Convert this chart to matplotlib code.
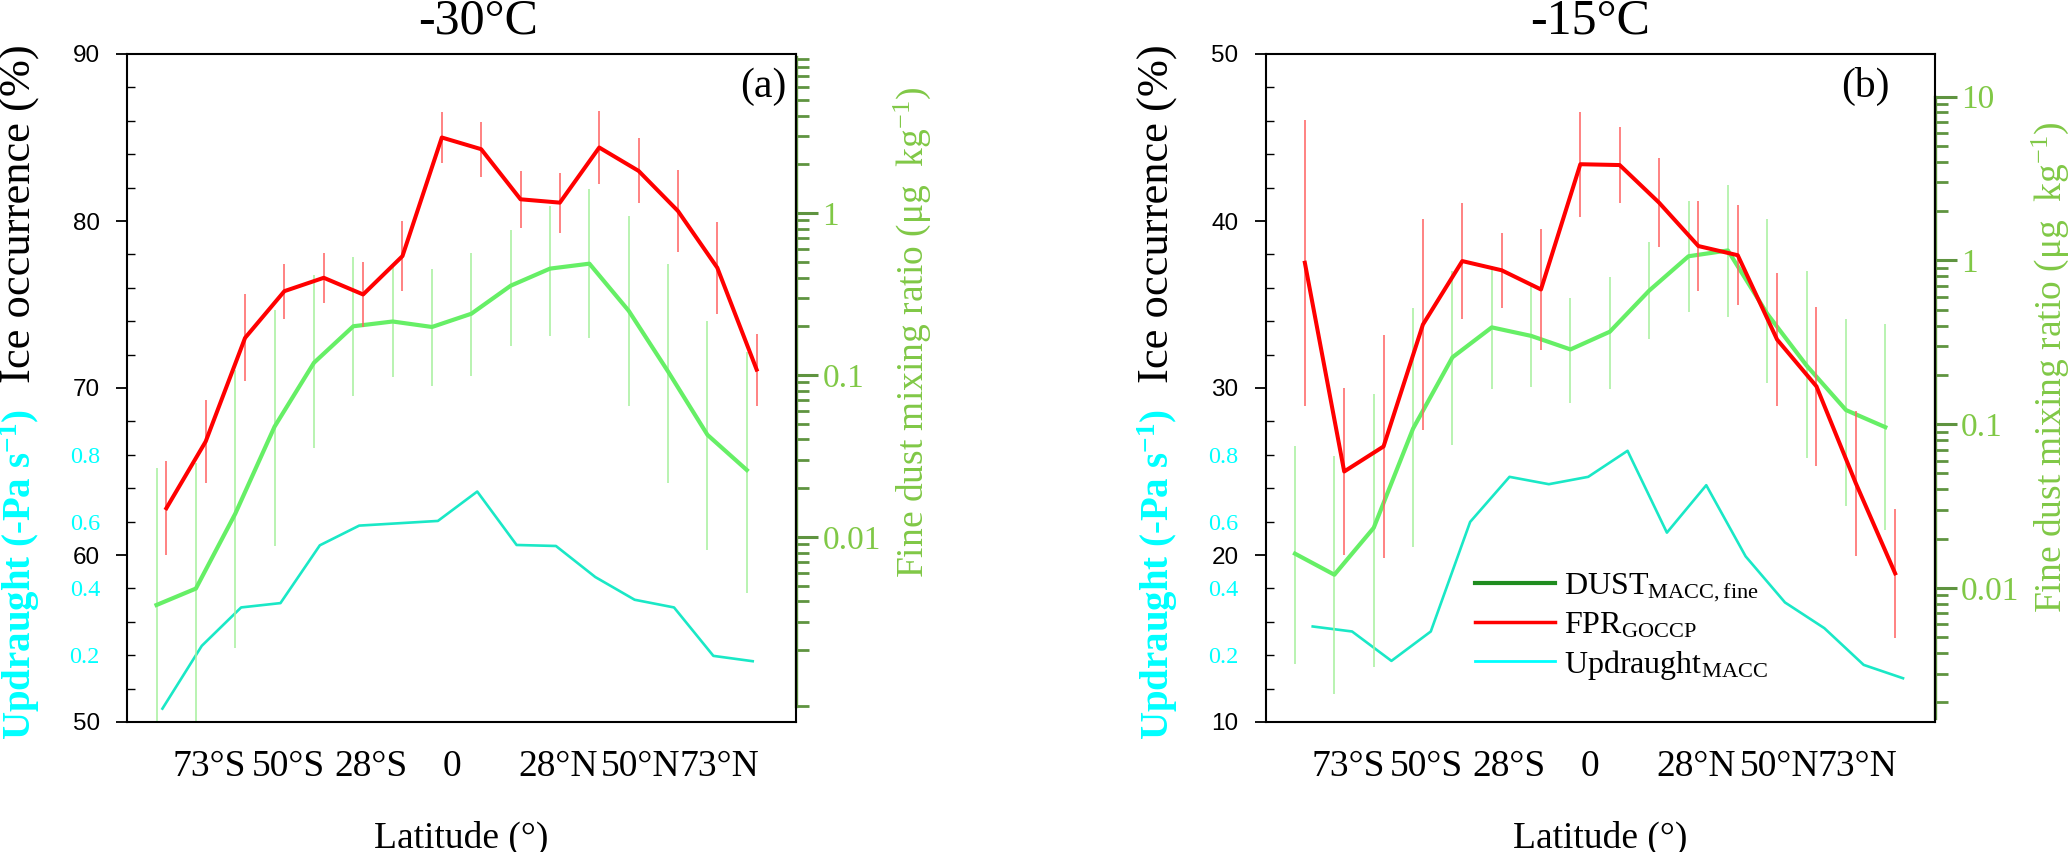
import numpy as np
import matplotlib
matplotlib.use('Agg')
import matplotlib.pyplot as plt
from matplotlib.lines import Line2D
from matplotlib.ticker import MultipleLocator, FixedLocator, NullFormatter

plt.rcParams['font.family'] = ['Liberation Serif', 'DejaVu Serif']
plt.rcParams['mathtext.fontset'] = 'custom'
plt.rcParams['mathtext.rm'] = 'Liberation Serif'
plt.rcParams['mathtext.it'] = 'Liberation Serif:italic'
plt.rcParams['mathtext.bf'] = 'Liberation Serif:bold'

# latitude of the bins (deg)
lat_fpr = [-75, -65, -55, -45, -35, -25, -15, -5, 5, 15, 25, 35, 45, 55, 65, 75]
lat_dust = [-77.5, -67.5, -57.5, -47.5, -37.5, -27.5, -17.5, -7.5, 2.5, 12.5, 22.5, 32.5, 42.5, 52.5, 62.5, 72.5]
lat_upd_a = [-76, -66, -56, -46, -36, -26, -16, -6, 4, 14, 24, 34, 44, 54, 64, 74]
lat_upd_b = [-73, -63, -53, -43, -33, -23, -13, -3, 7, 17, 27, 37, 47, 57, 67, 77]
lat_tick_pos = [-64, -44, -23, -2.5, 24.5, 45.5, 65.5]
lat_tick_lab = ['73°S', '50°S', '28°S', '0', '28°N', '50°N', '73°N']

# (a) -30C
fpr_a = [62.8, 66.8, 73.0, 75.8, 76.6, 75.6, 77.9, 85.0, 84.3, 81.3, 81.1, 84.4, 83.0, 80.6, 77.2, 71.1]
fpr_err_a = [2.8, 2.5, 2.6, 1.65, 1.5, 1.95, 2.1, 1.5, 1.65, 1.7, 1.8, 2.2, 1.95, 2.45, 2.75, 2.15]
dust_a = [0.0038, 0.0048, 0.0139, 0.048, 0.119, 0.20, 0.214, 0.198, 0.239, 0.356, 0.454, 0.487, 0.249, 0.105, 0.0427, 0.0259]
dust_hi_a = [0.0265, 0.0288, 0.108, 0.252, 0.414, 0.535, 0.471, 0.454, 0.567, 0.79, 1.11, 1.40, 0.958, 0.482, 0.216, 0.139]
dust_lo_a = [0.0005, 0.0006, 0.00207, 0.0088, 0.0355, 0.0745, 0.0975, 0.085, 0.0986, 0.150, 0.175, 0.170, 0.064, 0.0216, 0.0083, 0.00448]
upd_a = [0.04, 0.228, 0.343, 0.356, 0.529, 0.588, 0.595, 0.602, 0.69, 0.530, 0.527, 0.434, 0.366, 0.343, 0.198, 0.182]

# (b) -15C
fpr_b = [37.5, 25.0, 26.5, 33.8, 37.6, 37.05, 35.9, 43.4, 43.35, 41.1, 38.5, 37.95, 32.9, 30.1, 24.3, 18.9]
fpr_err_b = [8.55, 5.0, 6.7, 6.3, 3.45, 2.25, 3.65, 3.15, 2.3, 2.65, 2.7, 3.0, 4.0, 4.75, 4.35, 3.85]
dust_b = [0.0162, 0.01205, 0.0233, 0.094, 0.256, 0.39, 0.346, 0.286, 0.367, 0.654, 1.06, 1.15, 0.472, 0.228, 0.122, 0.0959]
dust_hi_b = [0.0734, 0.0641, 0.153, 0.509, 0.861, 0.93, 0.698, 0.59, 0.787, 1.29, 2.29, 2.87, 1.78, 0.861, 0.438, 0.407]
dust_lo_b = [0.00344, 0.00226, 0.0033, 0.0178, 0.0746, 0.163, 0.169, 0.134, 0.165, 0.333, 0.484, 0.454, 0.178, 0.062, 0.0315, 0.0225]
upd_b = [0.286, 0.271, 0.183, 0.271, 0.599, 0.734, 0.712, 0.734, 0.812, 0.567, 0.709, 0.496, 0.358, 0.281, 0.171, 0.131]

RED = '#ff0000'
RED_ERR = '#ff6060'
GREEN = '#66ef66'
GREEN_ERR = '#a6f09c'
CYAN_LINE = '#1ae8c6'
CYAN = '#00ffff'
DUST_AXIS = '#5f9440'
DUST_TEXT = '#80c846'

W, H = 2068, 852
fig = plt.figure(figsize=(W / 100, H / 100), dpi=100)


def draw_panel(left_px, fpr, fpr_err, dust, dust_lo, dust_hi, upd, lat_upd,
               ice_lim, dust_lim, dust_bounds, dust_ticks, tag, tag_x):
    rect = [left_px / W, 1 - 722 / H, 669 / W, 668 / H]
    ax = fig.add_axes(rect)
    ax_up = ax.twinx()
    ax_d = ax.twinx()
    ax.set_zorder(3)
    ax_d.set_zorder(2)
    ax_up.set_zorder(1)
    for a in (ax, ax_up, ax_d):
        a.patch.set_visible(False)

    # updraught (cyan, left inner scale)
    ax_up.plot(lat_upd, upd, color=CYAN_LINE, lw=1.9)
    ax_up.set_ylim(0, 2)
    ax_up.yaxis.tick_left()
    ax_up.set_yticks([0.2, 0.4, 0.6, 0.8], ['0.2', '0.4', '0.6', '0.8'])
    ax_up.tick_params(axis='y', length=0, pad=19.5, labelcolor=CYAN, labelsize=17.5)
    for s in ax_up.spines.values():
        s.set_visible(False)

    # fine dust (green, log right scale)
    dust = np.array(dust)
    ax_d.set_yscale('log')
    ax_d.errorbar(lat_dust, dust, yerr=[dust - np.array(dust_lo), np.array(dust_hi) - dust],
                  color=GREEN, lw=3.0, ecolor=GREEN_ERR, elinewidth=1.1, capsize=0)
    ax_d.set_ylim(*dust_lim)
    for s in ('top', 'bottom', 'left'):
        ax_d.spines[s].set_visible(False)
    ax_d.spines['right'].set_color(DUST_AXIS)
    ax_d.spines['right'].set_linewidth(2.4)
    ax_d.spines['right'].set_bounds(*dust_bounds)
    ax_d.set_yticks(dust_ticks, [('%g' % t) for t in dust_ticks])
    minor = [m * 10.0 ** e for e in range(-4, 2) for m in range(2, 10)]
    minor = [t for t in minor if dust_bounds[0] <= t <= dust_bounds[1]]
    ax_d.yaxis.set_minor_locator(FixedLocator(minor))
    ax_d.yaxis.set_minor_formatter(NullFormatter())
    ax_d.tick_params(axis='y', which='major', direction='out', length=16, width=2.2,
                     color=DUST_AXIS, labelcolor=DUST_TEXT, labelsize=24, pad=3)
    ax_d.tick_params(axis='y', which='minor', direction='out', length=9, width=2.0,
                     color=DUST_AXIS)

    # ice occurrence (red, left scale)
    ax.errorbar(lat_fpr, fpr, yerr=fpr_err, color=RED, lw=2.9,
                ecolor=RED_ERR, elinewidth=1.1, capsize=0)
    ax.set_ylim(*ice_lim)
    ax.set_xlim(-85, 85)
    majors = list(range(ice_lim[0], ice_lim[1] + 1, 10))
    ax.set_yticks(majors, [str(m) for m in majors], fontfamily='Liberation Sans')
    ax.yaxis.set_minor_locator(MultipleLocator(2))
    ax.tick_params(axis='y', which='major', direction='out', length=8, width=1.3,
                   labelsize=17.5, pad=11.5)
    ax.tick_params(axis='y', which='minor', direction='in', length=6, width=1.0)
    ax.set_xticks(lat_tick_pos, lat_tick_lab)
    ax.tick_params(axis='x', length=0, labelsize=27, pad=20)
    for s in ax.spines.values():
        s.set_linewidth(1.5)
    ax.set_xlabel('Latitude (°)', fontsize=27, labelpad=26)
    ax.text(tag_x, 0.951, tag, transform=ax.transAxes, ha='center', va='center', fontsize=30)
    return ax


ax_a = draw_panel(127, fpr_a, fpr_err_a, dust_a, dust_lo_a, dust_hi_a, upd_a, lat_upd_a,
                  (50, 90), (7.2e-4, 9.6), (9e-4, 9.2), [0.01, 0.1, 1], '(a)', 0.951)
ax_b = draw_panel(1265.5, fpr_b, fpr_err_b, dust_b, dust_lo_b, dust_hi_b, upd_b, lat_upd_b,
                  (10, 50), (1.52e-3, 18.2), (1.6e-3, 10), [0.01, 0.1, 1, 10], '(b)', 0.896)

# titles
fig.text(478 / W, 1 - 21 / H, '-30°C', ha='center', va='center', fontsize=36)
fig.text(1590 / W, 1 - 21 / H, '-15°C', ha='center', va='center', fontsize=36)

# left labels (two-colour)
for x in (20, 1158):
    fig.text(x / W, 1 - 214 / H, 'Ice occurrence (%)', rotation=90,
             ha='center', va='center', fontsize=32)
    fig.text(x / W, 1 - 575 / H, r'Updraught (-Pa s$^{\mathbf{-1}}$)', rotation=90,
             ha='center', va='center', fontsize=28, fontweight='bold', color=CYAN)

# right labels
for x, y in ((912, 332), (2050, 367)):
    fig.text(x / W, 1 - y / H, r'Fine dust mixing ratio (μg  kg$^{-1}$)', rotation=90,
             ha='center', va='center', fontsize=27, color=DUST_TEXT)

handles = [Line2D([], [], color='#1f8c1f', lw=3.0),
           Line2D([], [], color=RED, lw=2.5),
           Line2D([], [], color=CYAN, lw=2.0)]
labels = [r'DUST$_{\mathrm{MACC,fine}}$', r'FPR$_{\mathrm{GOCCP}}$', r'Updraught$_{\mathrm{MACC}}$']
ax_b.legend(handles, labels, loc='upper left', bbox_to_anchor=(0.313, 0.225), frameon=False,
            fontsize=23, handlelength=2.5, handletextpad=0.3, labelspacing=0.22,
            borderpad=0, borderaxespad=0)

fig.savefig('out.png', dpi=100)
